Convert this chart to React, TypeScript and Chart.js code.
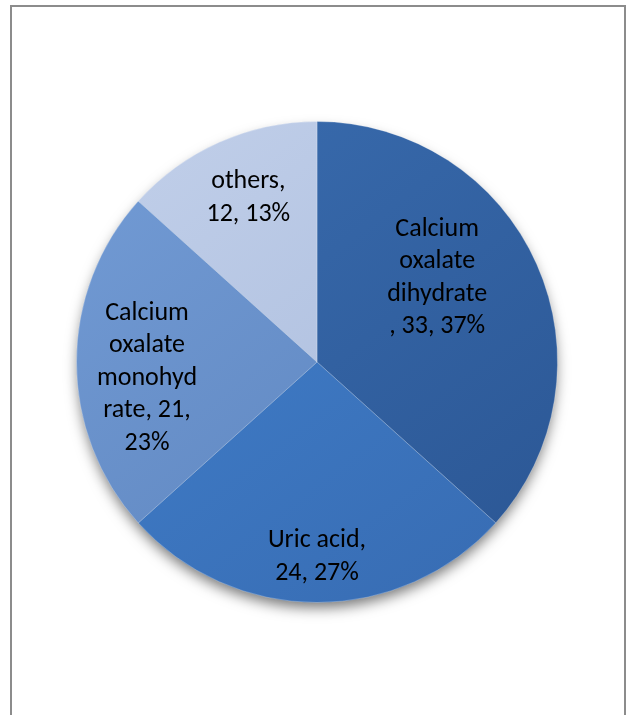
import React, { useEffect, useRef } from "react";
import { Chart, registerables } from "chart.js";

Chart.register(...registerables);

const categories = ["Calcium oxalate dihydrate", "Uric acid", "Calcium oxalate monohydrate", "others"];
const values = [33, 24, 21, 12];
const labelLines = [
  ["Calcium", "oxalate", "dihydrate", ", 33, 37%"],
  ["Uric acid,", "24, 27%"],
  ["Calcium", "oxalate", "monohyd", "rate, 21,", "23%"],
  ["others,", "12, 13%"],
];
const topColors = ["#3a6db0", "#4282cf", "#739cd6", "#c2d0ea"];
const bottomColors = ["#2c5896", "#386db4", "#5d84bd", "#a9bbdc"];

// label placement: angle shift (deg) and radius fraction
const labelPlacement = [
  { da: -11, f: 0.61 },
  { da: 0, f: 0.81 },
  { da: -5.4, f: 0.71 },
  { da: 1.3, f: 0.74 },
];

const FONT = "Carlito, Lato, 'Open Sans', sans-serif";

const shadowPlugin = {
  id: "pieShadow",
  beforeDatasetsDraw(chart: any) {
    const meta = chart.getDatasetMeta(0);
    const arc = meta.data[0];
    if (!arc) return;
    const { x, y, outerRadius } = arc.getProps(["x", "y", "outerRadius"], true);
    const ctx = chart.ctx;
    ctx.save();
    ctx.shadowColor = "rgba(0,0,0,0.55)";
    ctx.shadowBlur = 14;
    ctx.shadowOffsetY = 7;
    ctx.beginPath();
    ctx.arc(x, y, outerRadius - 2, 0, Math.PI * 2);
    ctx.fillStyle = "#3a6aa8";
    ctx.fill();
    ctx.restore();
  },
};

const labelPlugin = {
  id: "sliceLabels",
  afterDatasetsDraw(chart: any) {
    const meta = chart.getDatasetMeta(0);
    const ctx = chart.ctx;
    ctx.save();
    ctx.font = `26px ${FONT}`;
    ctx.fillStyle = "#000";
    ctx.textAlign = "center";
    ctx.textBaseline = "middle";
    meta.data.forEach((arc: any, i: number) => {
      const p = arc.getProps(["x", "y", "startAngle", "endAngle", "outerRadius"], true);
      const pl = labelPlacement[i];
      const mid = (p.startAngle + p.endAngle) / 2 + (pl.da * Math.PI) / 180;
      const cx = p.x + Math.cos(mid) * p.outerRadius * pl.f;
      const cy = p.y + Math.sin(mid) * p.outerRadius * pl.f;
      const lines = labelLines[i];
      const lh = 32.5;
      const startY = cy - ((lines.length - 1) * lh) / 2;
      lines.forEach((ln, j) => ctx.fillText(ln, cx, startY + j * lh));
    });
    ctx.restore();
  },
};

export default function App() {
  const ref = useRef<HTMLCanvasElement | null>(null);
  useEffect(() => {
    document.body.style.margin = "0";
    const canvas = ref.current!;
    const chart = new Chart(canvas, {
      type: "pie",
      data: {
        labels: categories,
        datasets: [
          {
            data: values,
            backgroundColor: (c: any) => {
              const ch = c.chart;
              const area = ch.chartArea;
              if (!area) return topColors[c.dataIndex];
              const g = ch.ctx.createLinearGradient(area.left, area.top, area.right * 0.8, area.bottom);
              g.addColorStop(0, topColors[c.dataIndex]);
              g.addColorStop(1, bottomColors[c.dataIndex]);
              return g;
            },
            borderColor: "rgba(255,255,255,0.25)",
            borderWidth: 1,
          },
        ],
      },
      options: {
        animation: false,
        responsive: false,
        devicePixelRatio: 1,
        layout: { padding: { left: 76, right: 69, top: 121, bottom: 112 } },
        plugins: { legend: { display: false }, tooltip: { enabled: false } },
      },
      plugins: [shadowPlugin, labelPlugin],
    });
    return () => chart.destroy();
  }, []);
  return (
    <div style={{ position: "relative", width: 627, height: 715, overflow: "hidden", background: "#fff" }}>
      <div
        style={{
          position: "absolute",
          left: 10,
          top: 5,
          width: 612,
          height: 800,
          border: "2px solid #8c8c8c",
        }}
      />
      <canvas ref={ref} width={627} height={715} style={{ position: "absolute", left: 0, top: 0 }} />
    </div>
  );
}
